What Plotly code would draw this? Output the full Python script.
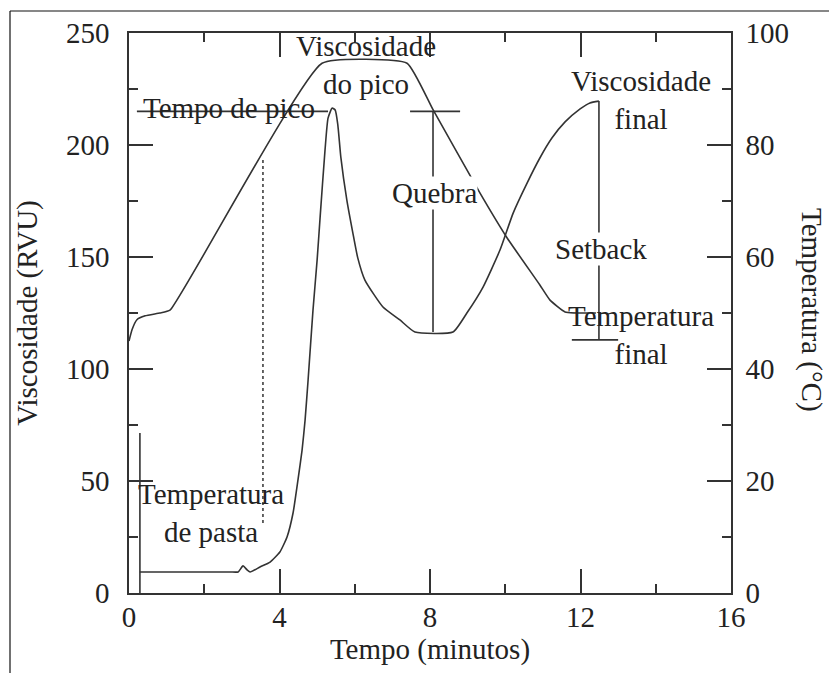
import numpy as np
import plotly.graph_objects as go

# Temperature programme (°C) versus time (min)
temp_time = [0.0, 0.08, 0.21, 0.43, 0.82, 1.09, 5.13, 7.39, 8.08, 9.33, 10.05, 10.92, 11.19, 11.59, 12.41]
temp_value = [45.0, 47.0, 48.8, 49.5, 50.0, 50.5, 94.6, 94.6, 86.3, 71.4, 63.4, 55.0, 52.3, 50.2, 50.0]

# Viscosity (RVU) versus time (min); the first three points are the start-up spike
visc_time = [0.29, 0.29, 0.29, 2.68, 2.90, 3.03, 3.14, 3.22, 3.48, 3.75, 4.01, 4.20, 4.36, 4.49,
             4.60, 4.68, 4.76, 4.89, 5.00, 5.08, 5.21, 5.29, 5.40, 5.48, 5.55, 5.63, 5.79, 5.95,
             6.08, 6.27, 6.75, 7.20, 7.60, 8.61, 8.98, 9.41, 9.86, 10.21, 10.58, 10.92, 11.24,
             11.59, 11.99, 12.25, 12.49]
visc_value = [0.0, 71.4, 9.4, 9.4, 9.4, 12.1, 10.3, 9.4, 11.6, 13.8, 18.3, 25.0, 35.7, 50.4,
              63.8, 77.2, 95.1, 126.3, 148.7, 167.9, 197.8, 212.0, 216.5, 215.6, 209.0, 194.6,
              175.4, 160.7, 149.6, 139.7, 127.7, 121.9, 116.5, 116.5, 125.0, 136.6, 153.1,
              169.6, 183.0, 194.2, 203.1, 210.3, 216.1, 218.8, 219.6]

# Key points of the profile
peak_visc = 215.0          # level marked for peak viscosity
peak_line_start = 0.21
peak_line_end = 5.29
breakdown_time = 8.08
breakdown_bar = [7.47, 8.80]
trough_visc = 116.5
final_visc = 219.6
final_time = 12.49
setback_base = 113.0
setback_bar = [11.77, 13.0]
pasting_time = 3.56
pasting_line_bottom = 12.5  # °C, lower end of the dotted marker

x_ticks = [0, 4, 8, 12, 16]
visc_ticks = [0, 50, 100, 150, 200, 250]
temp_ticks = [0, 20, 40, 60, 80, 100]

INK = "#333333"
TXT = "#222222"
FONT = "Liberation Serif"
FS = 29
FS_TICK = 29

fig = go.Figure()

fig.add_trace(go.Scatter(x=temp_time, y=temp_value, yaxis="y2", mode="lines",
                         line=dict(color=INK, width=1.6, shape="spline", smoothing=0.4),
                         hoverinfo="skip", showlegend=False))
# start-up spike drawn straight, the rest of the viscosity curve smoothed
fig.add_trace(go.Scatter(x=visc_time[:3], y=visc_value[:3], mode="lines",
                         line=dict(color=INK, width=1.6),
                         hoverinfo="skip", showlegend=False))
fig.add_trace(go.Scatter(x=visc_time[2:], y=visc_value[2:], mode="lines",
                         line=dict(color=INK, width=1.6, shape="spline", smoothing=0.5),
                         hoverinfo="skip", showlegend=False))

line_style = dict(color=INK, width=1.6)
shapes = [
    # peak time marker
    dict(type="line", xref="x", yref="y", x0=peak_line_start, x1=peak_line_end,
         y0=peak_visc, y1=peak_visc, line=line_style),
    # breakdown: peak level to trough
    dict(type="line", xref="x", yref="y", x0=breakdown_bar[0], x1=breakdown_bar[1],
         y0=peak_visc, y1=peak_visc, line=line_style),
    dict(type="line", xref="x", yref="y", x0=breakdown_time, x1=breakdown_time,
         y0=peak_visc, y1=trough_visc, line=line_style),
    # setback: final viscosity to base
    dict(type="line", xref="x", yref="y", x0=final_time, x1=final_time,
         y0=final_visc, y1=setback_base, line=line_style),
    dict(type="line", xref="x", yref="y", x0=setback_bar[0], x1=setback_bar[1],
         y0=setback_base, y1=setback_base, line=line_style),
    # pasting temperature marker, up to the temperature curve
    dict(type="line", xref="x", yref="y2", x0=pasting_time, x1=pasting_time,
         y0=pasting_line_bottom, y1=float(np.interp(pasting_time, temp_time, temp_value)),
         line=dict(color=INK, width=1.5, dash="dot")),
]

# outer frame of the figure (top and left edges)
W, H = 829, 673
ML, MR, MT, MB = 129, 98, 33, 80
pw, ph = W - ML - MR, H - MT - MB
fx0 = (10 - ML) / pw
fy_top = (H - MB - 11) / ph
fy_bot = (H - MB - H) / ph
shapes += [
    dict(type="line", xref="paper", yref="paper", x0=fx0, x1=(W - ML) / pw,
         y0=fy_top, y1=fy_top, line=dict(color="#111111", width=1.2)),
    dict(type="line", xref="paper", yref="paper", x0=fx0, x1=fx0,
         y0=fy_top, y1=fy_bot, line=dict(color="#111111", width=1.2)),
]

def label(text, x, y, yref="y", bg=None):
    d = dict(text=text, x=x, y=y, xref="x", yref=yref, showarrow=False,
             xanchor="center", yanchor="middle",
             font=dict(family=FONT, size=FS, color=TXT), borderpad=0)
    if bg:
        d["bgcolor"] = bg
    return d

annotations = [
    label("Viscosidade<br>do pico", 6.30, 235.5),
    label("Tempo de pico", 2.66, 216.5),
    label("Quebra", 8.13, 178.6, bg="white"),
    label("Viscosidade<br>final", 13.62, 220.3),
    label("Setback", 12.54, 153.5, bg="white"),
    label("Temperatura<br>final", 13.61, 115.0),
    label("Temperatura<br>de pasta", 2.18, 35.5),
    dict(text="Temperatura (°C)", x=(812 - ML) / pw, y=(H - MB - 310) / ph,
         xref="paper", yref="paper", showarrow=False, textangle=90,
         xanchor="center", yanchor="middle",
         font=dict(family=FONT, size=FS, color=TXT)),
]

axis_common = dict(showline=True, linecolor=INK, linewidth=1.6, ticks="inside",
                   tickcolor=INK, tickwidth=1.6, ticklen=24, showgrid=False, zeroline=False,
                   tickfont=dict(family=FONT, size=FS_TICK, color=TXT))

fig.update_layout(
    width=W, height=H, margin=dict(l=ML, r=MR, t=MT, b=MB),
    paper_bgcolor="white", plot_bgcolor="white",
    xaxis=dict(range=[0, 16], tickvals=x_ticks, mirror="ticks",
               minor=dict(dtick=2, ticklen=9, tickcolor=INK, tickwidth=1.6, ticks="inside"),
               ticklabelstandoff=-3,
               title=dict(text="Tempo (minutos)", font=dict(family=FONT, size=FS, color=TXT),
                          standoff=2),
               **axis_common),
    yaxis=dict(range=[0, 250], tickvals=visc_ticks,
               minor=dict(dtick=25, ticklen=9, tickcolor=INK, tickwidth=1.6, ticks="inside"),
               ticklabelstandoff=12,
               title=dict(text="Viscosidade (RVU)", font=dict(family=FONT, size=FS, color=TXT),
                          standoff=20),
               **axis_common),
    yaxis2=dict(range=[0, 100], tickvals=temp_ticks, overlaying="y", side="right",
                minor=dict(dtick=10, ticklen=9, tickcolor=INK, tickwidth=1.6, ticks="inside"),
                ticklabelstandoff=7,
                **axis_common),
    shapes=shapes,
    annotations=annotations,
)

fig.write_html("out.html")
